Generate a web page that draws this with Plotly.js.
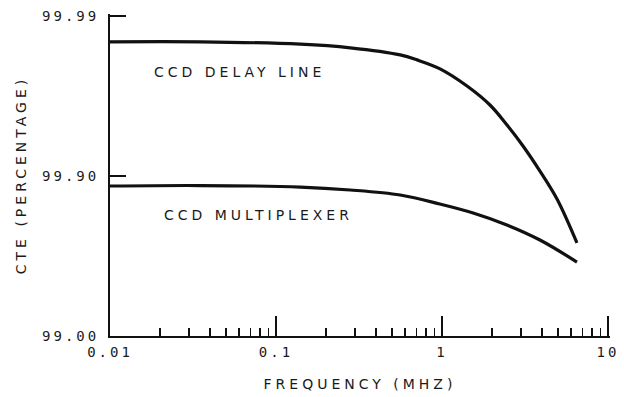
<!DOCTYPE html>
<html>
<head>
<meta charset="utf-8">
<script src="https://cdn.plot.ly/plotly-3.0.1.min.js"></script>
<style>
  html, body { margin: 0; padding: 0; background: #fff; }
  #chart { width: 624px; height: 397px; }
  .annotation-text, .xtitle, .ytitle { letter-spacing: 4px; }
  .xtick text, .ytick text { letter-spacing: 3px; }
</style>
</head>
<body>
<div id="chart"></div>
<script>
// Frequency (MHz) and charge transfer efficiency (%)
const delayFreq = [0.01, 0.035, 0.14, 0.28, 0.56, 0.707, 0.973, 1.415, 1.945, 2.464, 3.076, 3.89, 4.93, 6.5];
const delayCTE  = [99.9855, 99.9855, 99.9850, 99.9842, 99.9825, 99.9812, 99.9786, 99.9726, 99.9640, 99.9520, 99.9351, 99.9069, 99.8607, 99.738];

const muxFreq = [0.01, 0.035, 0.14, 0.28, 0.56, 0.97, 1.54, 2.46, 3.89, 6.5];
const muxCTE  = [99.8845, 99.8853, 99.8828, 99.8777, 99.8685, 99.8504, 99.8297, 99.7976, 99.7488, 99.655];

const xTickVals = [0.01, 0.1, 1, 10];
const xTickText = ['0.01', '0.1', '1', '10'];
const xMinorVals = [0.02,0.03,0.04,0.05,0.06,0.07,0.08,0.09,0.2,0.3,0.4,0.5,0.6,0.7,0.8,0.9,2,3,4,5,6,7,8,9];
const yTickCTE = [99.00, 99.90, 99.99];
const yTickText = ['99.00', '99.90', '99.99'];

const labels = ['CCD DELAY LINE', 'CCD MULTIPLEXER'];
const labelFreq = [0.0179, 0.0206];
const labelCTE = [99.9776, 99.8246];

// "nines" probability scale: number of nines = -log10(100 - CTE)
const nines = v => -Math.log10(100 - v);

const ink = '#111';
const traces = [
  { x: delayFreq, y: delayCTE.map(nines), mode: 'lines', line: { color: ink, width: 3.2, shape: 'spline', smoothing: 1 }, hoverinfo: 'skip' },
  { x: muxFreq, y: muxCTE.map(nines), mode: 'lines', line: { color: ink, width: 3.2, shape: 'spline', smoothing: 1 }, hoverinfo: 'skip' }
];

const font = { family: 'DejaVu Sans, sans-serif', size: 14, color: '#1a1a1a' };

const layout = {
  width: 624, height: 397,
  margin: { l: 110, r: 14, t: 14, b: 61 },
  paper_bgcolor: '#fff', plot_bgcolor: '#fff',
  showlegend: false,
  font: font,
  xaxis: {
    type: 'log', range: [-2, 1.012],
    showgrid: false, zeroline: false,
    showline: true, linecolor: ink, linewidth: 2,
    ticks: 'inside', ticklen: 20, tickwidth: 1.5, tickcolor: ink,
    tickmode: 'array', tickvals: xTickVals, ticktext: xTickText,
    tickfont: { family: 'DejaVu Sans Mono, monospace', size: 14, color: '#1a1a1a' },
    ticklabelstandoff: 2,
    minor: { tickmode: 'array', tickvals: xMinorVals, ticks: 'inside', ticklen: 8, tickwidth: 1.5, tickcolor: ink, showgrid: false },
    title: { text: 'FREQUENCY (MHZ)', font: font, standoff: 20 }
  },
  yaxis: {
    range: [0, 2.0125],
    showgrid: false, zeroline: false,
    showline: true, linecolor: ink, linewidth: 2,
    ticks: 'inside', ticklen: 16, tickwidth: 1.5, tickcolor: ink,
    tickmode: 'array', tickvals: yTickCTE.map(nines), ticktext: yTickText,
    tickfont: { family: 'DejaVu Sans Mono, monospace', size: 14, color: '#1a1a1a' },
    ticklabelstandoff: 6,
    title: { text: 'CTE (PERCENTAGE)', font: font, standoff: 12 }
  },
  annotations: labels.map((t, i) => ({
    x: Math.log10(labelFreq[i]), y: nines(labelCTE[i]), xref: 'x', yref: 'y',
    text: t, showarrow: false, xanchor: 'left', yanchor: 'middle', font: font
  }))
};

Plotly.newPlot('chart', traces, layout, { staticPlot: true, displayModeBar: false });
</script>
</body>
</html>
